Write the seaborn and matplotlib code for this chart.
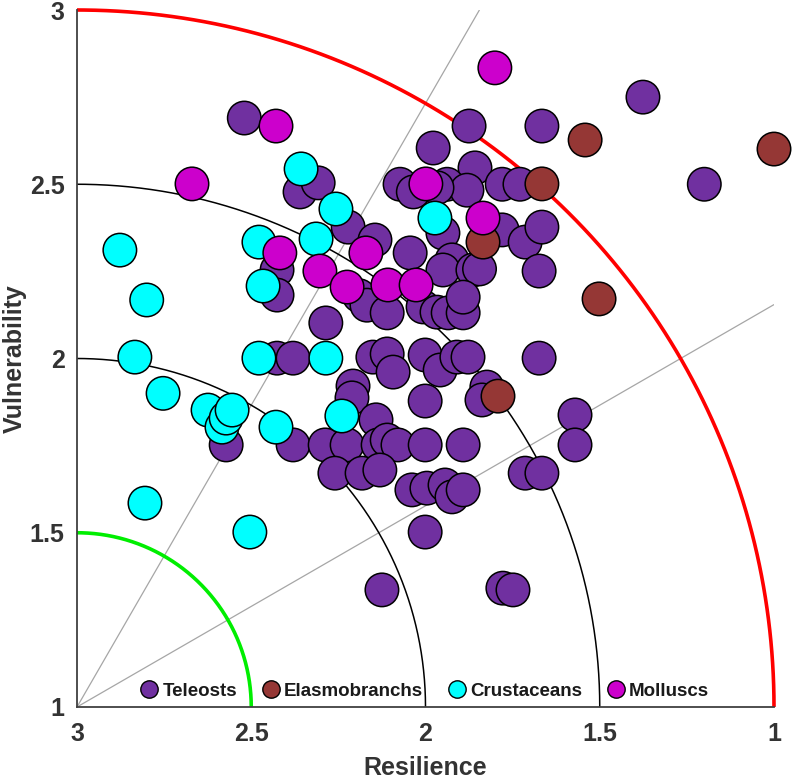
import numpy as np
import pandas as pd
import matplotlib
matplotlib.use("Agg")
import matplotlib.pyplot as plt
from matplotlib.lines import Line2D
import seaborn as sns

# ---------------- data ----------------
teleost_res = [2.52, 1.875, 1.666, 1.376, 1.20, 1.978, 1.858, 2.073, 1.938, 1.78,
               1.729, 1.881, 2.36, 2.308, 2.035, 1.967, 2.222, 2.145, 2.044, 1.95,
               1.924, 1.95, 1.864, 1.845, 1.78, 1.714, 1.666, 1.674, 2.426, 2.426,
               2.286, 2.19, 2.168, 2.11, 2.007, 1.967, 1.935, 1.892, 1.892, 2.426,
               2.38, 2.151, 2.11, 2.093, 2.001, 1.958, 1.91, 1.878, 1.674, 2.208,
               2.211, 2.142, 2.001, 1.824, 1.838, 1.571, 1.571, 2.572, 2.38, 2.288,
               2.225, 2.136, 2.11, 2.079, 2.001, 1.892, 2.26, 2.182, 2.131, 2.039,
               1.996, 1.944, 1.924, 1.892, 1.714, 1.666, 2.001, 2.125, 1.778, 1.749]
teleost_vul = [2.69, 2.667, 2.667, 2.75, 2.50, 2.604, 2.547, 2.50, 2.50, 2.50,
               2.50, 2.483, 2.478, 2.504, 2.478, 2.49, 2.377, 2.34, 2.303, 2.36,
               2.283, 2.254, 2.254, 2.257, 2.369, 2.334, 2.377, 2.251, 2.254, 2.182,
               2.102, 2.18, 2.153, 2.131, 2.148, 2.133, 2.131, 2.131, 2.176, 2.001,
               2.001, 2.004, 2.013, 1.961, 2.01, 1.967, 2.004, 2.004, 2.001, 1.921,
               1.887, 1.824, 1.878, 1.918, 1.881, 1.838, 1.752, 1.752, 1.752, 1.752,
               1.752, 1.752, 1.766, 1.752, 1.752, 1.752, 1.671, 1.671, 1.68, 1.623,
               1.628, 1.637, 1.603, 1.623, 1.671, 1.671, 1.502, 1.336, 1.341, 1.336]

elasmo_res = [1.542, 1.0, 1.666, 1.835, 1.502, 1.792]
elasmo_vul = [2.627, 2.601, 2.501, 2.334, 2.171, 1.892]

crust_res = [2.877, 2.80, 2.834, 2.753, 2.805, 2.504, 2.624, 2.584, 2.572, 2.555,
             2.429, 2.478, 2.466, 2.478, 2.357, 2.257, 2.314, 2.286, 2.240, 1.973]
crust_vul = [2.311, 2.168, 2.004, 1.90, 1.585, 1.502, 1.852, 1.803, 1.829, 1.852,
             1.803, 2.334, 2.208, 2.001, 2.544, 2.429, 2.343, 2.001, 1.835, 2.403]

mollusc_res = [2.670, 2.429, 2.418, 2.303, 2.225, 2.171, 2.108, 2.027, 1.999, 1.801, 1.835]
mollusc_vul = [2.501, 2.667, 2.303, 2.251, 2.205, 2.303, 2.211, 2.211, 2.501, 2.834, 2.403]

groups = ["Teleosts", "Elasmobranchs", "Crustaceans", "Molluscs"]
group_colors = ["#7030A0", "#953735", "#00FFFF", "#CC00CC"]

tick_values = [3, 2.5, 2, 1.5, 1]
tick_labels = ["3", "2.5", "2", "1.5", "1"]

arc_radii = [0.5, 1.0, 1.5, 2.0]
arc_colors = ["#00EE00", "black", "black", "#FF0000"]
arc_widths = [2.6, 1.1, 1.1, 2.6]
ray_angles = [30, 60]
ray_length = 2.309

# ---------------- frame ----------------
df = pd.concat([
    pd.DataFrame({"Resilience": teleost_res, "Vulnerability": teleost_vul, "Group": "Teleosts"}),
    pd.DataFrame({"Resilience": elasmo_res, "Vulnerability": elasmo_vul, "Group": "Elasmobranchs"}),
    pd.DataFrame({"Resilience": crust_res, "Vulnerability": crust_vul, "Group": "Crustaceans"}),
    pd.DataFrame({"Resilience": mollusc_res, "Vulnerability": mollusc_vul, "Group": "Molluscs"}),
], ignore_index=True)

sns.set_style("white")
plt.rcParams['font.family'] = ['Liberation Sans', 'DejaVu Sans']
plt.rcParams['font.weight'] = 'bold'

fig = plt.figure(figsize=(7.94, 7.79), dpi=100)
ax = fig.add_axes([77 / 794, 1 - 707 / 779, 697 / 794, 697 / 779])

origin_x, origin_y = 3.0, 1.0
theta = np.linspace(0, np.pi / 2, 300)

# rays
for a in ray_angles:
    t = np.deg2rad(a)
    ax.plot([origin_x, origin_x - ray_length * np.cos(t)],
            [origin_y, origin_y + ray_length * np.sin(t)],
            color="#A6A6A6", lw=0.9, zorder=1)

# arcs
for r, c, w in zip(arc_radii, arc_colors, arc_widths):
    ax.plot(origin_x - r * np.cos(theta), origin_y + r * np.sin(theta),
            color=c, lw=w, zorder=2, clip_on=False, solid_capstyle="butt")

sns.scatterplot(data=df, x="Resilience", y="Vulnerability", hue="Group",
                hue_order=groups, palette=group_colors, s=580,
                edgecolor="black", linewidth=1.1, alpha=1.0,
                legend=False, ax=ax, zorder=3, clip_on=False)

ax.set_xlim(3, 1)
ax.set_ylim(1, 3)
ax.set_xticks(tick_values)
ax.set_xticklabels(tick_labels)
ax.set_yticks(tick_values)
ax.set_yticklabels(tick_labels)
ax.tick_params(axis="x", length=0, labelsize=18, labelcolor="#333333", pad=11)
ax.tick_params(axis="y", length=0, labelsize=18, labelcolor="#333333", pad=9)
for lab in ax.get_xticklabels() + ax.get_yticklabels():
    lab.set_fontweight("bold")

ax.set_xlabel("Resilience", fontsize=18, fontweight="bold", color="#333333")
ax.set_ylabel("Vulnerability", fontsize=18, fontweight="bold", color="#333333")
ax.xaxis.set_label_coords(0.5, -0.07)
ax.yaxis.set_label_coords(-0.072, 0.5)

for side in ["top", "right"]:
    ax.spines[side].set_visible(False)
for side in ["left", "bottom"]:
    ax.spines[side].set_color("#404040")
    ax.spines[side].set_linewidth(1.3)
    ax.spines[side].set_zorder(2.5)

handles = [Line2D([0], [0], marker="o", linestyle="none", markersize=12.5,
                  markerfacecolor=c, markeredgecolor="black", markeredgewidth=1.0)
           for c in group_colors]
leg = ax.legend(handles, groups, loc="lower center", ncol=4, frameon=False,
                handlelength=0.8, handletextpad=0.3, columnspacing=1.4,
                bbox_to_anchor=(0.5, 0.0), borderaxespad=0.0,
                prop={"size": 13.5, "weight": "bold"})
for t in leg.get_texts():
    t.set_color("#1a1a1a")

fig.savefig("out.png", dpi=100)
